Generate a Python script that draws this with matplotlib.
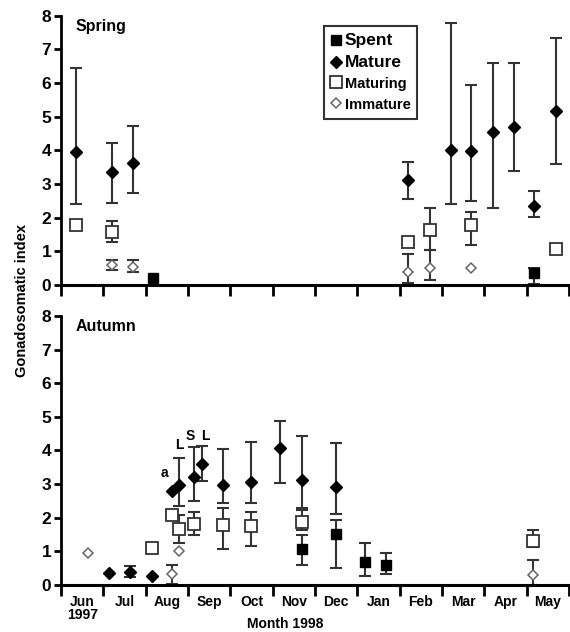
import numpy as np
import matplotlib
matplotlib.use("Agg")
import matplotlib.pyplot as plt
from matplotlib.lines import Line2D

months = ["Jun\n1997", "Jul", "Aug", "Sep", "Oct", "Nov", "Dec", "Jan", "Feb", "Mar", "Apr", "May"]

# ---------- Spring (x in months since start of June 1997) ----------
sp_mature_x = [0.35, 1.20, 1.70, 8.20, 9.22, 9.69, 10.20, 10.70, 11.18, 11.70]
sp_mature_y = [3.96, 3.36, 3.64, 3.12, 4.02, 3.99, 4.55, 4.70, 2.36, 5.16]
sp_mature_hi = [6.45, 4.23, 4.72, 3.66, 7.80, 5.95, 6.60, 6.60, 2.78, 7.33]
sp_mature_lo = [2.41, 2.45, 2.73, 2.56, 2.41, 2.50, 2.29, 3.40, 2.03, 3.59]

sp_maturing_x = [0.35, 1.20, 8.20, 8.73, 9.69, 11.70]
sp_maturing_y = [1.77, 1.58, 1.27, 1.65, 1.77, 1.07]
sp_maturing_hi = [np.nan, 1.90, np.nan, 2.28, 2.17, np.nan]
sp_maturing_lo = [np.nan, 1.27, np.nan, 1.04, 1.20, np.nan]

sp_immature_x = [1.20, 1.70, 8.20, 8.73, 9.69]
sp_immature_y = [0.60, 0.55, 0.38, 0.50, 0.50]
sp_immature_hi = [0.75, 0.75, 0.91, 1.04, np.nan]
sp_immature_lo = [0.45, 0.38, 0.07, 0.15, np.nan]

sp_spent_x = [2.17, 11.18]
sp_spent_y = [0.20, 0.35]
sp_spent_hi = [np.nan, 0.50]
sp_spent_lo = [np.nan, 0.02]

# ---------- Autumn ----------
au_mature_x = [1.14, 1.63, 2.14, 2.63, 2.80, 3.14, 3.32, 3.83, 4.50, 5.17, 5.69, 6.50]
au_mature_y = [0.35, 0.40, 0.28, 2.80, 2.98, 3.22, 3.60, 2.98, 3.07, 4.07, 3.12, 2.92]
au_mature_hi = [np.nan, 0.55, np.nan, np.nan, 3.78, 4.10, 4.14, 4.05, 4.26, 4.88, 4.43, 4.22]
au_mature_lo = [np.nan, 0.25, np.nan, np.nan, 2.35, 2.50, 3.10, 2.44, 2.44, 3.04, 2.29, 2.11]

au_maturing_x = [2.14, 2.63, 2.80, 3.14, 3.83, 4.50, 5.69, 11.16]
au_maturing_y = [1.10, 2.08, 1.66, 1.81, 1.78, 1.76, 1.88, 1.31]
au_maturing_hi = [np.nan, np.nan, 2.08, 2.17, 2.28, 2.17, 2.23, 1.64]
au_maturing_lo = [np.nan, np.nan, 1.24, 1.48, 1.06, 1.16, 1.64, 1.13]

au_immature_x = [0.64, 2.63, 2.80, 11.16]
au_immature_y = [0.95, 0.33, 1.00, 0.30]
au_immature_hi = [np.nan, 0.58, np.nan, 0.74]
au_immature_lo = [np.nan, 0.03, np.nan, 0.00]

au_spent_x = [5.69, 6.50, 7.19, 7.67]
au_spent_y = [1.07, 1.52, 0.68, 0.60]
au_spent_hi = [1.50, 1.93, 1.25, 0.95]
au_spent_lo = [0.59, 0.51, 0.27, 0.33]

au_notes = ["a", "L", "S", "L"]
au_notes_x = [2.45, 2.80, 3.05, 3.40]
au_notes_y = [3.12, 3.95, 4.22, 4.22]

plt.rcParams['font.family'] = ['Liberation Sans', 'DejaVu Sans']
fig = plt.figure(figsize=(5.70, 6.32), dpi=100)
ax1 = fig.add_axes([0.107, 0.549, 0.891, 0.426])
ax2 = fig.add_axes([0.107, 0.0744, 0.891, 0.4256])

styles = {
    "spent": dict(marker="s", ms=7, mfc="black", mec="black", mew=1.0),
    "mature": dict(marker="D", ms=6, mfc="black", mec="black", mew=1.0),
    "maturing": dict(marker="s", ms=8, mfc="white", mec="#333333", mew=1.3),
    "immature": dict(marker="D", ms=5.5, mfc="white", mec="#666666", mew=1.1),
}

def draw(ax, x, y, hi, lo, key):
    x = np.array(x); y = np.array(y); hi = np.array(hi, float); lo = np.array(lo, float)
    m = ~np.isnan(hi)
    if m.any():
        ax.errorbar(x[m], y[m], yerr=[y[m] - lo[m], hi[m] - y[m]], fmt="none",
                    ecolor="#333333", elinewidth=1.5, capsize=4, capthick=1.5, zorder=2)
    ax.plot(x, y, ls="none", zorder=3, **styles[key])

draw(ax1, sp_mature_x, sp_mature_y, sp_mature_hi, sp_mature_lo, "mature")
draw(ax1, sp_maturing_x, sp_maturing_y, sp_maturing_hi, sp_maturing_lo, "maturing")
draw(ax1, sp_immature_x, sp_immature_y, sp_immature_hi, sp_immature_lo, "immature")
draw(ax1, sp_spent_x, sp_spent_y, sp_spent_hi, sp_spent_lo, "spent")

draw(ax2, au_mature_x, au_mature_y, au_mature_hi, au_mature_lo, "mature")
draw(ax2, au_maturing_x, au_maturing_y, au_maturing_hi, au_maturing_lo, "maturing")
draw(ax2, au_immature_x, au_immature_y, au_immature_hi, au_immature_lo, "immature")
draw(ax2, au_spent_x, au_spent_y, au_spent_hi, au_spent_lo, "spent")

for t, x, y in zip(au_notes, au_notes_x, au_notes_y):
    ax2.text(x, y, t, fontsize=10, fontweight="bold", ha="center", va="bottom")

for ax, title in [(ax1, "Spring"), (ax2, "Autumn")]:
    ax.set_xlim(0, 12)
    ax.set_ylim(0, 8)
    ax.spines["top"].set_visible(False)
    ax.spines["right"].set_visible(False)
    ax.spines["left"].set_linewidth(2)
    ax.spines["bottom"].set_linewidth(2.2)
    ax.set_yticks(range(0, 9))
    ax.set_xticks(range(0, 13))
    ax.tick_params(axis="y", direction="out", length=5, width=2, labelsize=12.5, pad=2)
    ax.tick_params(axis="x", direction="out", length=8, width=2, labelsize=10)
    for lab in ax.get_yticklabels():
        lab.set_fontweight("bold")
    ax.text(0.35, 7.45, title, fontsize=11.5, fontweight="bold", ha="left", va="bottom")

ax1.set_xticklabels([])
ax2.set_xticklabels([])
ax2.set_xticks(np.arange(0.5, 12, 1), minor=True)
ax2.set_xticklabels(months, minor=True, fontweight="bold", fontsize=10, va="top", linespacing=0.95)
ax2.tick_params(axis="x", which="minor", length=0, pad=7)

fig.text(0.50, 0.013, "Month 1998", fontsize=10, fontweight="bold", ha="center", va="center")
fig.text(0.038, 0.525, "Gonadosomatic index", fontsize=10.5, fontweight="bold", rotation=90,
         ha="center", va="center")

handles = [Line2D([], [], ls="none", **styles[k]) for k in ["spent", "mature", "maturing", "immature"]]
leg = ax1.legend(handles, ["Spent", "Mature", "Maturing", "Immature"], loc="upper left",
                 bbox_to_anchor=(0.503, 0.99), frameon=True, fancybox=False, edgecolor="black",
                 handlelength=0.6, handletextpad=0.3, borderpad=0.45, labelspacing=0.45,
                 prop=dict(weight="bold", size=11))
for i, t in enumerate(leg.get_texts()):
    t.set_fontsize(12.5 if i < 2 else 10.5)
leg.get_frame().set_linewidth(1.5)

fig.savefig("out.png", dpi=100)
